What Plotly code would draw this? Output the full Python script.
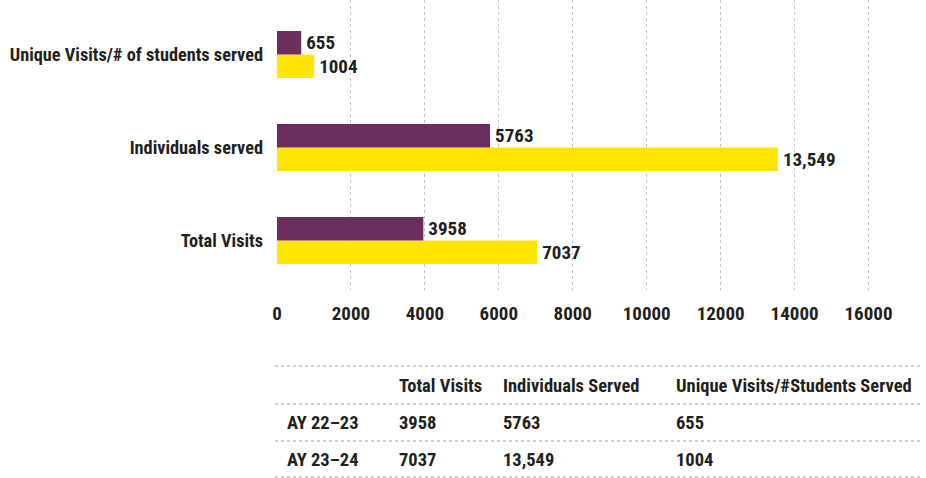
import plotly.graph_objects as go

# ---- data ----
categories = ["Total Visits", "Individuals served", "Unique Visits/# of students served"]
ay_22_23 = [3958, 5763, 655]
ay_23_24 = [7037, 13549, 1004]
series_names = ["AY 22–23", "AY 23–24"]
table_headers = ["Total Visits", "Individuals Served", "Unique Visits/#Students Served"]
x_tick_values = [0, 2000, 4000, 6000, 8000, 10000, 12000, 14000, 16000]

# ---- style ----
PURPLE = "#6c2d5f"
YELLOW = "#ffe500"
TEXT = "#231f20"
GRID = "#c4c4c4"
FONT = "Liberation Sans Narrow, Arial Narrow, Roboto Condensed, sans-serif"

W, H = 926, 478
L, R, T, B = 277, 38.5, 0, 188
PW, PH = W - L - R, H - T - B


def fmt(v):
    return f"{v:,}" if v >= 10000 else str(v)


def px_x(px):
    return (px - L) / PW


def px_y(py):
    return (H - B - py) / PH


fig = go.Figure()
# AY 23-24 first so it sits below AY 22-23 inside each group
fig.add_trace(go.Bar(
    y=categories, x=ay_23_24, orientation="h", name=series_names[1],
    marker=dict(color=YELLOW, line=dict(width=0)),
    text=["\u200a" + fmt(v) for v in ay_23_24], textposition="outside",
    textfont=dict(family=FONT, size=19, color=TEXT, weight="bold"),
    cliponaxis=False, constraintext="none",
))
fig.add_trace(go.Bar(
    y=categories, x=ay_22_23, orientation="h", name=series_names[0],
    marker=dict(color=PURPLE, line=dict(width=0)),
    text=["\u200a" + fmt(v) for v in ay_22_23], textposition="outside",
    textfont=dict(family=FONT, size=19, color=TEXT, weight="bold"),
    cliponaxis=False, constraintext="none",
))

fig.update_layout(
    width=W, height=H, autosize=False,
    margin=dict(l=L, r=R, t=T, b=B, pad=0),
    paper_bgcolor="white", plot_bgcolor="white",
    barmode="group", bargap=0.495, bargroupgap=0,
    showlegend=False,
    font=dict(family=FONT, size=19, color=TEXT, weight="bold"),
    xaxis=dict(
        range=[0, 16500], tickvals=x_tick_values,
        ticktext=[str(v) for v in x_tick_values],
        showgrid=True, gridcolor=GRID, griddash="dot", gridwidth=1,
        zeroline=False, showline=False, ticks="", ticklabelstandoff=10,
        tickfont=dict(family=FONT, size=19, color=TEXT, weight="bold"),
        fixedrange=True,
    ),
    yaxis=dict(
        range=[-0.532, 2.586], showgrid=False, zeroline=False, showline=False,
        ticks="", ticklabelstandoff=13,
        tickfont=dict(family=FONT, size=18.3, color=TEXT, weight="bold"),
        fixedrange=True,
    ),
)

# ---- table below the chart ----
col_x = [285, 397, 501, 674]
header_y = 386
row_y = [423, 460]
line_y = [366, 404, 441, 477]

for y in line_y:
    fig.add_shape(type="line", xref="paper", yref="paper",
                  x0=px_x(275), x1=px_x(922), y0=px_y(y), y1=px_y(y),
                  line=dict(color="#a0a0a0", width=1, dash="dot"))

tfont = dict(family=FONT, size=18.5, color=TEXT, weight="bold")
for i, h in enumerate(table_headers):
    fig.add_annotation(text=h, x=px_x(col_x[i + 1]), y=px_y(header_y),
                       xref="paper", yref="paper", xanchor="left", yanchor="middle",
                       showarrow=False, font=tfont)
for r, (name, vals) in enumerate(zip(series_names, [ay_22_23, ay_23_24])):
    fig.add_annotation(text=name, x=px_x(col_x[0]), y=px_y(row_y[r]),
                       xref="paper", yref="paper", xanchor="left", yanchor="middle",
                       showarrow=False, font=tfont)
    for c, v in enumerate(vals):
        fig.add_annotation(text=fmt(v), x=px_x(col_x[c + 1]), y=px_y(row_y[r]),
                           xref="paper", yref="paper", xanchor="left", yanchor="middle",
                           showarrow=False, font=tfont)

fig.write_html("out.html", config={"displayModeBar": False},
               post_script="document.body.style.margin='0';document.body.style.overflow='hidden';")
